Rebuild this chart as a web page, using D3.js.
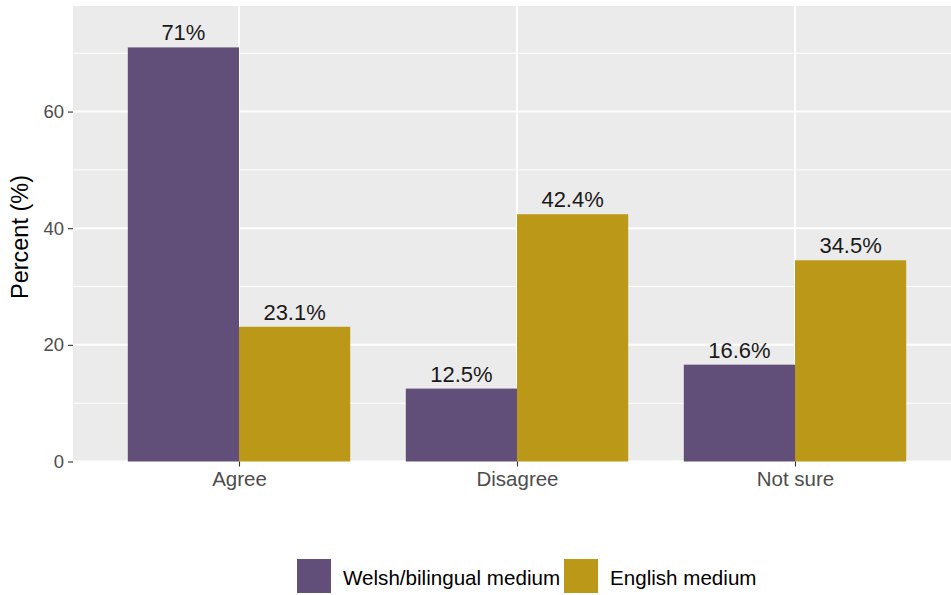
<!DOCTYPE html>
<html><head><meta charset="utf-8">
<script src="https://cdn.jsdelivr.net/npm/d3@7"></script>
<style>body{margin:0;background:#fff}svg{display:block;font-family:"Liberation Sans",Arial,sans-serif}</style>
</head><body>
<script>
const categories = ["Agree", "Disagree", "Not sure"];
const seriesNames = ["Welsh/bilingual medium", "English medium"];
const welshValues = [71, 12.5, 16.6];
const englishValues = [23.1, 42.4, 34.5];
const valueLabels = [["71%", "12.5%", "16.6%"], ["23.1%", "42.4%", "34.5%"]];
const yTicks = [0, 20, 40, 60];
const yMinor = [10, 30, 50, 70];
const colors = ["#614f79", "#bb9817"];

const W = 951, H = 595;
const svg = d3.select("body").append("svg").attr("width", W).attr("height", H);
const panel = {left: 73, top: 6, right: 962, bottom: 461.5};

const y = d3.scaleLinear().domain([0, 71 * 1.1]).range([panel.bottom, panel.top]);
const x = d3.scalePoint().domain(categories).range([239, 795]);
const step = x.step();
const barW = step * 0.4;

svg.append("rect").attr("x", panel.left).attr("y", panel.top)
  .attr("width", panel.right - panel.left).attr("height", panel.bottom - panel.top).attr("fill", "#ebebeb");

svg.selectAll(".minor").data(yMinor).enter().append("line")
  .attr("x1", panel.left).attr("x2", panel.right)
  .attr("y1", d => y(d)).attr("y2", d => y(d))
  .attr("stroke", "#fff").attr("stroke-width", 1);
svg.selectAll(".major").data(yTicks).enter().append("line")
  .attr("x1", panel.left).attr("x2", panel.right)
  .attr("y1", d => y(d)).attr("y2", d => y(d))
  .attr("stroke", "#fff").attr("stroke-width", 2);
svg.selectAll(".vmajor").data(categories).enter().append("line")
  .attr("x1", d => x(d)).attr("x2", d => x(d))
  .attr("y1", panel.top).attr("y2", panel.bottom)
  .attr("stroke", "#fff").attr("stroke-width", 2);

const series = [welshValues, englishValues];
series.forEach((vals, si) => {
  const g = svg.append("g");
  g.selectAll("rect").data(vals).enter().append("rect")
    .attr("x", (d, i) => x(categories[i]) - barW + si * barW)
    .attr("y", d => y(d))
    .attr("width", barW)
    .attr("height", d => y(0) - y(d))
    .attr("fill", colors[si]);
  g.selectAll("text").data(vals).enter().append("text")
    .attr("x", (d, i) => x(categories[i]) - barW / 2 + si * barW)
    .attr("y", d => y(d) - 7)
    .attr("text-anchor", "middle")
    .attr("font-size", 22)
    .attr("fill", "#1a1a1a")
    .text((d, i) => valueLabels[si][i]);
});

// Y axis
const yAxis = svg.append("g").attr("transform", `translate(${panel.left},0)`)
  .call(d3.axisLeft(y).tickValues(yTicks).tickSize(5).tickPadding(4));
yAxis.select(".domain").remove();
yAxis.selectAll("line").attr("stroke", "#333").attr("stroke-width", 1.1);
yAxis.selectAll("text").attr("font-size", 18.5).attr("fill", "#4d4d4d").attr("font-family", "Liberation Sans, Arial, sans-serif");

// X axis
const xAxis = svg.append("g").attr("transform", `translate(0,${panel.bottom})`)
  .call(d3.axisBottom(x).tickSize(5).tickPadding(5));
xAxis.select(".domain").remove();
xAxis.selectAll("line").attr("stroke", "#333").attr("stroke-width", 1.1);
xAxis.selectAll("text").attr("font-size", 20.5).attr("fill", "#4d4d4d").attr("font-family", "Liberation Sans, Arial, sans-serif");

svg.append("text").attr("transform", "translate(28,237) rotate(-90)")
  .attr("text-anchor", "middle").attr("font-size", 23.5).attr("fill", "#000")
  .text("Percent (%)");

// Legend
const legX = [297, 564];
seriesNames.forEach((n, i) => {
  svg.append("rect").attr("x", legX[i]).attr("y", 559).attr("width", 34).attr("height", 34)
    .attr("fill", colors[i]);
  svg.append("text").attr("x", legX[i] + 46).attr("y", 585)
    .attr("font-size", 20.6).attr("fill", "#000").text(n);
});
</script>
</body></html>
